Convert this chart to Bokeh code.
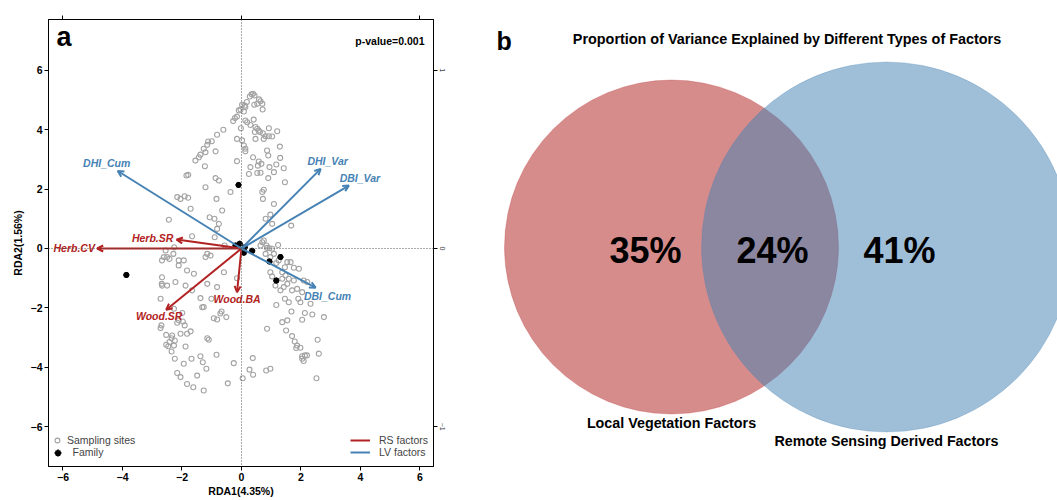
from bokeh.plotting import figure
from bokeh.layouts import row
from bokeh.models import (ColumnDataSource, Range1d, LinearAxis, FixedTicker, Span,
                          Arrow, OpenHead, Legend, LegendItem, Label)
from bokeh.core.properties import value
from bokeh.embed import file_html
from bokeh.resources import INLINE

# ---------------- data: panel a (RDA biplot) ----------------
site_x = [0.34, 0.39, 0.28, 0.44, 0.59, 0.64, 0.53, 0.43, 0.70, 0.18, 0.11, 0.02, -0.03, 0.08, -0.09, 0.13,
          0.71, -0.15, -0.22, -0.28, 0.13, 0.19, 0.41, 0.30, 0.47, 0.53, 0.58, 0.45, 0.62, 0.92, 1.20, -0.02,
          0.72, 0.81, 0.92, 1.03, 0.75, 0.47, 0.02, -0.15, 0.08, 0.13, 0.13, -0.61, -0.82, -1.00, -1.12, -1.15,
          -1.27, -1.21, -1.38, -1.43, -1.55, -0.87, 0.86, 0.90, 1.29, 1.30, 0.39, 0.58, 0.67, 0.55, 0.30, 0.94,
          1.17, -0.15, -1.23, -1.85, -1.79, -0.87, -0.76, 1.09, 0.53, 0.25, 0.64, 0.90, 1.46, -1.21, 0.75, 1.42,
          -2.16, -2.05, -1.91, -1.79, -0.84, -0.37, 0.70, 0.72, 1.09, -1.71, -1.07, -0.91, -0.65, 0.97, 0.81,
          -0.76, -0.82, 1.03, 1.67, -2.44, -1.66, -0.90, -0.57, 0.64, 0.70, 0.84, 1.23, 1.03, 1.09, 0.81, 0.97,
          -2.26, -2.29, -2.55, -2.61, -2.67, -2.50, -2.42, -2.11, -1.94, -1.15, -1.21, -1.04, 1.54, 1.65, 1.76,
          1.93, 1.46, 1.37, 1.48, 1.59, 1.76, 2.09, 2.21, 1.25, 1.17, 0.97, 1.03, 1.37, 1.14, 1.31, 1.42, 1.54,
          -2.11, -1.83, -1.60, -2.67, -2.67, -2.50, -2.22, -1.88, -1.66, -1.15, -0.82, -0.59, 1.70, 1.87, 2.04,
          -0.15, 0.75, 0.86, 0.94,
          -2.72, -1.38, -1.01, -0.67, -0.93, -0.82, -0.51, -1.32, -2.27, -1.99, -2.11, -1.91, -1.97, -2.16,
          -2.69, -2.72, -2.53, -2.33, -2.35, -2.24, -2.42, -2.53, -2.46, -2.27, -2.05, -1.83, -1.71, -1.88,
          -1.15, -1.10, -2.35, -2.24, -1.94, -1.68, -1.38, -1.30, -1.18, -0.84, -0.26, -2.16, -2.05, -1.49,
          -1.83, -1.62, -1.27, -0.46, 0.04, 0.27, 0.39, 0.38, 0.83, 0.97, 0.86, 1.37, 1.54, 1.17, 1.46, 1.59,
          1.91, 1.98, 2.32, 1.68, 2.13, 2.38, 2.77, 2.04, 1.50, 1.70, 1.79, 1.87, 1.98, 1.84, 2.04, 2.13, 2.20,
          2.04, 2.09, 2.56, 2.60, 2.52, -2.68, -0.71, -1.27]
site_y = [5.19, 5.21, 5.12, 5.15, 5.02, 4.96, 4.87, 4.84, 4.87, 4.93, 4.81, 4.84, 4.68, 4.61, 4.65, 4.76,
          4.68, 4.44, 4.39, 4.29, 4.31, 4.25, 4.34, 4.16, 4.09, 4.03, 3.97, 3.92, 3.92, 4.05, 3.95, 4.05,
          3.88, 3.78, 3.78, 3.77, 3.69, 3.69, 3.64, 3.69, 3.47, 3.36, 3.27, 4.00, 3.83, 3.61, 3.60, 3.49,
          3.36, 3.24, 3.16, 3.07, 2.96, 3.27, 3.30, 3.13, 3.43, 3.05, 3.07, 2.93, 2.85, 2.79, 2.74, 2.74,
          2.83, 2.94, 2.77, 2.46, 2.48, 2.37, 2.29, 2.57, 2.54, 2.51, 2.55, 2.37, 2.23, 2.06, 1.98, 2.70,
          1.73, 1.67, 1.76, 1.71, 1.67, 1.90, 1.90, 1.67, 1.50, 1.34, 1.05, 1.00, 1.28, 1.14, 1.00,
          0.83, 0.66, 0.83, 0.77, 0.97, 0.41, 0.38, 0.10, 0.10, 0.21, 0.10, 0.12, -0.01, -0.18, -0.18, -0.29,
          0.04, -0.18, -0.07, -0.29, -0.40, -0.29, -0.35, -0.40, -0.40, -0.18, -0.29, -0.24, -0.46, -0.46, -0.65,
          -0.68, -0.63, -0.80, -0.91, -1.02, -1.08, -1.08, -1.13, -0.40, -0.49, -0.80, -0.94, -1.02, -1.25, -1.41, -1.30, -1.19,
          -0.57, -0.74, -0.85, -0.97, -1.25, -1.25, -1.13, -1.25, -1.41, -1.19, -1.30, -0.80, -1.41, -1.36, -1.47,
          -1.00, 0.27, 0.02, 0.01,
          -1.69, -1.67, -1.69, -2.12, -2.35, -2.39, -2.31, -1.98, -2.03, -2.17, -2.42, -2.59, -2.46, -2.50,
          -2.59, -2.68, -2.91, -2.93, -3.02, -3.10, -3.15, -3.24, -3.29, -3.27, -2.87, -2.87, -2.79, -3.30,
          -3.02, -3.07, -3.47, -3.71, -3.88, -3.71, -3.63, -3.83, -4.05, -3.58, -3.86, -4.19, -4.33, -4.28,
          -4.56, -4.67, -4.78, -4.54, -4.37, -4.08, -4.25, -3.69, -4.11, -4.05, -2.70, -2.48, -2.42, -1.90, -1.69, -1.81,
          -1.69, -1.81, -1.86, -2.12, -2.17, -2.22, -2.31, -2.40, -2.76, -2.95, -3.13, -3.27, -3.34, -3.35, -3.63, -3.60, -3.60,
          -3.71, -3.79, -3.07, -3.54, -4.37, -1.19, -2.19, -1.97]

family_x = [-0.10, -3.87, -0.06, -0.20, 0.11, 0.36, 1.31, 0.94, 1.17, 0.08]
family_y = [2.14, -0.89, 0.16, 0.10, 0.04, -0.08, -0.29, -0.44, -1.08, -0.14]

lv_names = ["DHI_Cum", "DHI_Var", "DBI_Var", "DBI_Cum"]
lv_rda1 = [-4.16, 2.66, 3.61, 2.49]
lv_rda2 = [2.61, 2.68, 2.12, -1.32]

rs_names = ["Herb.SR", "Herb.CV", "Wood.SR", "Wood.BA"]
rs_rda1 = [-2.18, -4.85, -2.53, -0.15]
rs_rda2 = [0.30, 0.00, -2.06, -1.47]

axis_ticks = [-6, -4, -2, 0, 2, 4, 6]
x_title = "RDA1(4.35%)"
y_title = "RDA2(1.56%)"
p_text = "p-value=0.001"

# ---------------- data: panel b (Venn) ----------------
venn_title = "Proportion of Variance Explained by Different Types of Factors"
set_names = ["Local Vegetation Factors", "Remote Sensing Derived Factors"]
region_pct = [35, 24, 41]   # LV only, shared, RS only

# ---------------- style / layout ----------------
FONT_S = "Liberation Sans"
FONT = value(FONT_S)
RED = "#B22222"
BLUE = "#4682B4"
FS = "10.5px"

# label offsets in screen px (layout only)
lv_dx = [-11, 7, 11, 12]
lv_dy = [-8, -8, -8, 8]
rs_dx = [-24, -23, -7, 0]
rs_dy = [-2, 0, 6, 7]

XR = (-6.487, 6.454)
YR = (-7.34, 7.71)
TOP, BOTTOM = 19, 34
FRAME_H = 447

p1 = figure(frame_width=385, frame_height=FRAME_H, x_range=Range1d(*XR), y_range=Range1d(*YR),
            output_backend="svg", toolbar_location=None,
            min_border_left=48, min_border_right=17, min_border_top=TOP, min_border_bottom=BOTTOM,
            x_axis_label=x_title, y_axis_label=y_title)
p1.extra_x_ranges = {"top": Range1d(XR[0] / 6, XR[1] / 6)}
p1.extra_y_ranges = {"right": Range1d(YR[0] / 6, YR[1] / 6)}
p1.xgrid.visible = False
p1.ygrid.visible = False
p1.outline_line_color = "black"
p1.outline_line_alpha = 1
p1.background_fill_color = "white"

for ax in (p1.xaxis[0], p1.yaxis[0]):
    ax.ticker = FixedTicker(ticks=axis_ticks)
    ax.major_tick_in = 0
    ax.major_tick_out = 4
    ax.minor_tick_line_color = None
    ax.axis_line_color = "black"
    ax.major_label_text_font = FONT_S
    ax.major_label_text_font_style = "bold"
    ax.major_label_text_font_size = FS
    ax.major_label_text_color = "black"
    ax.axis_label_text_font = FONT_S
    ax.axis_label_text_font_style = "bold"
    ax.axis_label_text_font_size = FS
    ax.axis_label_text_color = "black"
    ax.major_label_standoff = 2
    ax.axis_label_standoff = 1
p1.yaxis[0].axis_label_standoff = 4

top_ax = LinearAxis(x_range_name="top", ticker=FixedTicker(ticks=[-1, 0, 1]),
                    major_tick_in=0, major_tick_out=4, minor_tick_line_color=None,
                    major_label_overrides={-1: "", 0: "", 1: ""}, axis_line_color="black")
p1.add_layout(top_ax, "above")
right_ax = LinearAxis(y_range_name="right", ticker=FixedTicker(ticks=[-1, 0, 1]),
                      major_tick_in=0, major_tick_out=4, minor_tick_line_color=None,
                      major_label_text_font_size="7px", major_label_text_font=FONT_S,
                      major_label_orientation="parallel", major_label_standoff=2,
                      axis_line_color="black")
p1.add_layout(right_ax, "right")

p1.add_layout(Span(location=0, dimension="height", line_color="#555555", line_dash="1 2", line_width=1))
p1.add_layout(Span(location=0, dimension="width", line_color="#555555", line_dash="1 2", line_width=1))

r_sites = p1.scatter(site_x, site_y, marker="circle", size=5, fill_color=None,
                     line_color="#A3A3A3", line_width=1.1)
p1.scatter(family_x, family_y, marker="circle", size=5, fill_color="black", line_color="black")
r_family = p1.scatter(family_x, family_y, marker="asterisk", size=6, line_color="black", line_width=1.8)

def draw_group(names, xs, ys, dx, dy, color):
    src = ColumnDataSource(dict(x0=[0.0] * len(xs), y0=[0.0] * len(xs), x1=xs, y1=ys,
                                name=names, dx=dx, dy=dy))
    seg = p1.segment(x0="x0", y0="y0", x1="x1", y1="y1", source=src, line_color=color, line_width=2)
    p1.add_layout(Arrow(end=OpenHead(size=6, line_color=color, line_width=2),
                        x_start="x0", y_start="y0", x_end="x1", y_end="y1",
                        source=src, line_alpha=0))
    p1.text(x="x1", y="y1", text="name", x_offset="dx", y_offset="dy", source=src,
            text_color=color, text_font=FONT, text_font_size=FS, text_font_style="bold italic",
            text_align="center", text_baseline="middle")
    return seg

seg_rs = draw_group(rs_names, rs_rda1, rs_rda2, rs_dx, rs_dy, RED)
seg_lv = draw_group(lv_names, lv_rda1, lv_rda2, lv_dx, lv_dy, BLUE)

p1.add_layout(Label(x=XR[0], y=YR[1], x_offset=8, y_offset=-32, text="a", text_font=FONT_S,
                    text_font_size="27px", text_font_style="bold", text_color="black"))
p1.add_layout(Label(x=XR[1], y=YR[1], x_offset=-9, y_offset=-27, text=p_text, text_font=FONT_S,
                    text_font_size=FS, text_font_style="bold", text_align="right", text_color="black"))

leg_common = dict(border_line_color=None, background_fill_alpha=0, label_text_font=FONT_S,
                  label_text_font_size=FS, label_height=12, spacing=0, padding=0, margin=0)
leg_sites = Legend(items=[LegendItem(label="Sampling sites", renderers=[r_sites])],
                   location=(3, 20), glyph_width=12, glyph_height=12, label_standoff=4, **leg_common)
leg_family = Legend(items=[LegendItem(label="Family", renderers=[r_family])],
                    location=(0.5, 5.5), glyph_width=17, glyph_height=17, label_standoff=7, **leg_common)
leg_right = Legend(items=[LegendItem(label="RS factors", renderers=[seg_rs]),
                          LegendItem(label="LV factors", renderers=[seg_lv])],
                   location=(302, 8), glyph_width=20, glyph_height=12, label_standoff=9, **leg_common)
p1.add_layout(leg_sites)
p1.add_layout(leg_family)
p1.add_layout(leg_right)

# ---------------- panel b ----------------
# frame of panel b is aligned with panel a's frame (page rows TOP .. TOP+FRAME_H);
# its data units are page pixels
p2 = figure(frame_width=607, frame_height=FRAME_H, x_range=Range1d(450, 1057),
            y_range=Range1d(TOP + FRAME_H, TOP),
            output_backend="svg", toolbar_location=None,
            min_border_left=0, min_border_right=0, min_border_top=TOP, min_border_bottom=BOTTOM)
p2.outline_line_color = None
p2.axis.visible = False
p2.grid.visible = False

# layout geometry of the two sets (page px)
circ_cx = [671, 886]
circ_cy = [246.5, 246.5]
circ_r = [167, 185]
circ_col = [RED, BLUE]
venn_src = ColumnDataSource(dict(x=circ_cx, y=circ_cy, r=circ_r, c=circ_col, name=set_names,
                                 ly=[cy + r + 1 for cy, r in zip(circ_cy, circ_r)]))
p2.circle(x="x", y="y", radius="r", source=venn_src, fill_color="c", fill_alpha=0.52,
          line_color="c", line_alpha=0.25, line_width=1)
p2.text(x="x", y="ly", text="name", source=venn_src, text_font=FONT, text_font_size="14.3px",
        text_font_style="bold", text_color="black", text_align="center", text_baseline="top")

pct_x = [645, 772, 899]
pct_y = [250, 250, 250]
p2.text(x=pct_x, y=pct_y, text=[f"{v}%" for v in region_pct], text_font=FONT,
        text_font_size="36px", text_font_style="bold", text_color="black",
        text_align="center", text_baseline="middle")
p2.text(x=[786.5], y=[38], text=[venn_title], text_font=FONT, text_font_size="14.4px",
        text_font_style="bold", text_color="black", text_align="center", text_baseline="middle")
p2.text(x=[496], y=[40], text=["b"], text_font=FONT, text_font_size="25px",
        text_font_style="bold", text_color="black", text_align="left", text_baseline="middle")

layout = row(p1, p2)
open("out.html", "w").write(file_html(layout, INLINE))
